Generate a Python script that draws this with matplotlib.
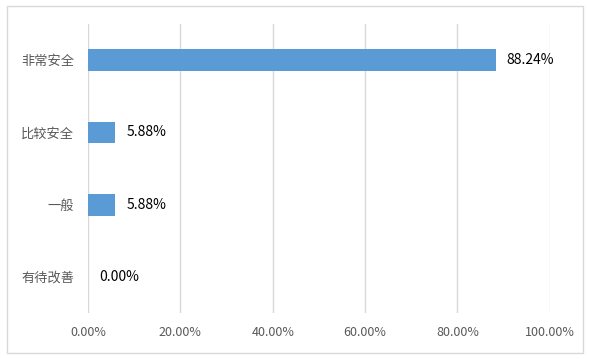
import matplotlib.pyplot as plt
from matplotlib.patches import Rectangle
from matplotlib.ticker import FuncFormatter

plt.rcParams['font.family'] = ['Noto Sans CJK SC', 'DejaVu Sans']

categories = ['非常安全', '比较安全', '一般', '有待改善']
values = [88.24, 5.88, 5.88, 0.00]
xticks = [0, 20, 40, 60, 80, 100]

fig = plt.figure(figsize=(5.9, 3.59), dpi=100)
ax = fig.add_axes([0.149, 0.128, 0.783, 0.805])

# top category first
ypos = list(range(len(categories)))[::-1]
ax.barh(ypos, values, height=0.3, color='#5B9BD5', zorder=3)

for y, v in zip(ypos, values):
    ax.annotate(f"{v:.2f}%", (v, y), textcoords="offset points", xytext=(8, 0),
                ha='left', va='center', fontsize=10, color='black')

ax.set_xlim(0, 100)
ax.set_ylim(-0.5, 3.5)
ax.set_xticks(xticks)
ax.xaxis.set_major_formatter(FuncFormatter(lambda x, p: f"{x:.2f}%"))
ax.set_yticks(ypos)
ax.set_yticklabels(categories)
ax.tick_params(axis='both', length=0, labelsize=9, labelcolor='#595959')
ax.tick_params(axis='y', labelsize=9.5, pad=10)
ax.tick_params(axis='x', pad=9)
ax.grid(axis='x', color='#d9d9d9', linewidth=1, zorder=0)
for s in ax.spines.values():
    s.set_visible(False)

fig.patches.append(Rectangle((0.012, 0.017), 0.976, 0.966, transform=fig.transFigure,
                             fill=False, edgecolor='#d9d9d9', linewidth=1))

fig.savefig('out.png', dpi=100)
